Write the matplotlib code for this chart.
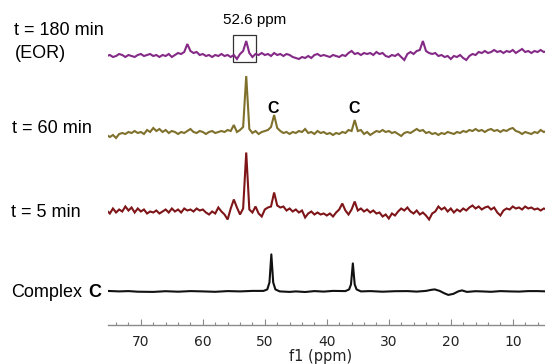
import numpy as np
import matplotlib
matplotlib.use("Agg")
import matplotlib.pyplot as plt
from matplotlib.patches import Rectangle
from matplotlib.ticker import MultipleLocator

# ---------------- data ----------------
# sampling grid of the noisy spectra, ppm (75.5 -> 4.5, 0.5 ppm step)
ppm_start, ppm_step, n_pts = 75.5, 0.5, 143

t180_vals = [0, 1, -1, 0, 2, 1, -1, 1, 0, -1,
             1, 2, 0, 1, 2, 0, 1, -1, 1, 0,
             2, -1, 1, 3, 2, 4, 12, 5, 3, 4,
             1, 2, 0, 1, -1, 1, 0, 2, 0, 1,
             -1, 1, -3, 2, 5, 15, 3, -1, 2, 1,
             3, 1, 2, 0, 3, 1, 2, 0, 2, 1,
             -1, -2, -3, -1, -2, 0, -2, 1, 2, 0,
             1, 0, -1, 1, 0, -1, 1, 0, 3, 5,
             2, 3, 1, 3, 2, 3, 1, 4, 2, 3,
             0, -1, 1, 0, 2, -1, -4, 2, 4, 2,
             5, 6, 15, 5, 3, 2, 3, 0, 1, -1,
             0, -3, 0, -1, 1, -2, -4, 0, 2, 1,
             4, 3, 5, 3, 4, 6, 4, 5, 3, 5,
             4, 6, 3, 5, 7, 4, 5, 3, 5, 4,
             6, 4, 5]

t60_vals = [-2, -4, -2, -5, -1, 0, -1, 1, 0, 2,
            0, 1, -1, 3, 1, 5, 2, 4, 1, 3,
            0, 2, 1, -1, 1, 0, 2, 4, 1, 0,
            2, 1, -1, 1, 2, 0, 1, 2, 1, 3,
            2, 8, 1, 3, 6, 57, 4, 0, 2, -1,
            1, 2, 3, 6, 18, 5, 2, 0, 1, -1,
            1, 0, 2, 1, 4, 0, 1, -1, 2, 0,
            1, -1, 0, -2, 0, -1, 1, 0, 3, 2,
            13, 2, 3, -1, 1, -2, 0, 2, 1, 3,
            1, 2, 0, 1, -1, -3, 0, 1, 0, 2,
            4, 2, 3, 0, 1, -1, 0, -2, 0, -1,
            1, 0, -1, 1, 0, 2, 1, 3, 2, 4,
            2, 3, 1, 3, 4, 2, 3, 1, 3, 2,
            4, 5, 2, 1, -1, 1, 0, -1, 1, 0,
            3, 1, 2]

t5_vals = [1, -2, 3, -1, 2, 0, 5, 1, 4, -1,
           3, 0, 2, -2, 0, -1, 1, -2, 0, 2,
           -1, 3, 0, 2, -1, 3, 1, 2, 0, 3,
           1, 2, -1, -3, 0, -2, 4, 0, -3, -8,
           3, 12, 4, -3, 3, 59, 2, -1, 5, -2,
           -5, 2, 4, 5, 19, 6, 4, 5, 1, 3,
           0, 2, -1, 1, -6, -2, 0, -3, -1, -3,
           -2, -4, -2, -5, -1, 2, 8, 1, -3, 2,
           10, 1, 3, 0, 2, -1, 1, -2, -1, -5,
           -3, -7, -2, -4, 0, 3, 1, 4, 0, -2,
           1, -3, -1, -4, -8, -2, 0, 5, 2, 4,
           0, 3, -1, 2, 0, 3, 1, 4, 6, 3,
           5, 2, 4, 5, 2, 4, -1, -4, 1, 3,
           2, 5, 3, 4, 2, 5, 3, 4, 2, 3,
           1, 3, 2]

# Complex C reference spectrum (smooth), sampled points
complex_ppm = [75.5, 73.5, 72, 70.5, 68, 66, 64, 62, 60, 58, 56, 54, 52,
               50.2, 49.6, 49.25, 48.95, 48.65, 48.3, 47.6, 46, 45, 43.5,
               42, 40.5, 39, 37, 36.4, 36.1, 35.8, 35.5, 35.2, 34.5, 33,
               31, 29, 27, 25.5, 24, 23.2, 22.6, 21.8, 21.0, 20.4, 19.6,
               18.8, 18.2, 17.4, 16, 15, 13.5, 12, 10.5, 9, 7.5, 6, 4.5]
complex_vals = [0.5, 0, 0.3, -0.3, -0.5, 0.2, -0.3, 0.3, 0, -0.4, 0.3, 0, 0.5,
                0.5, 2, 9, 37, 9, 2, 0, -0.5, 0, -0.6,
                0.3, -0.2, 0.5, 0.3, 2, 7, 28, 7, 2, 0, 0.3,
                -0.3, 0.2, 0.3, -0.2, 0.5, 1.5, 2, 0.5, -2, -3.5, -2.5,
                0, 1, -0.5, 0.2, 0, -0.4, 0.3, 0, -0.2, 0.3, 0.3, 0]

trace_labels = ["t = 180 min\n(EOR)", "t = 60 min", "t = 5 min"]
xtick_vals = [70, 60, 50, 40, 30, 20, 10]
box_label = "52.6 ppm"
peak_mark = "C"

# ---------------- styling / layout ----------------
W, H = 545, 364
fig = plt.figure(figsize=(W / 100, H / 100), dpi=100)
ax_bottom_px, ax_left_px = 325, 108
ax = fig.add_axes([ax_left_px / W, (H - ax_bottom_px) / H,
                   (W - ax_left_px) / W, ax_bottom_px / H])
ax.set_xlim(75.3, 4.8)
ax.set_ylim(0, ax_bottom_px)

grid = ppm_start - ppm_step * np.arange(n_pts)

offsets = {"t180": 269, "t60": 192, "t5": 113.5, "cplx": 33.6}
ax.plot(grid, np.array(t180_vals) + offsets["t180"], color="#842a86", lw=1.5,
        solid_joinstyle="miter")
ax.plot(grid, np.array(t60_vals) + offsets["t60"], color="#7f702c", lw=1.5,
        solid_joinstyle="miter")
ax.plot(grid, np.array(t5_vals) + offsets["t5"], color="#7e1518", lw=1.5,
        solid_joinstyle="miter")
ax.plot(complex_ppm, np.array(complex_vals) + offsets["cplx"], color="#111111",
        lw=1.5)

# box around 52.6 ppm peak in the EOR trace
ax.add_patch(Rectangle((55.1, 263), -3.6, 27, fill=False, edgecolor="#333333", lw=0.9))

for s in ["top", "left", "right"]:
    ax.spines[s].set_visible(False)
ax.spines["bottom"].set_color("#8a8a8a")
ax.spines["bottom"].set_linewidth(1.0)
ax.set_yticks([])
ax.set_xticks(xtick_vals)
ax.xaxis.set_minor_locator(MultipleLocator(2))
ax.tick_params(axis="x", which="major", direction="in", length=4, width=0.8,
               color="#8a8a8a", labelsize=10, labelcolor="#222222", pad=7)
ax.tick_params(axis="x", which="minor", direction="in", length=2.5, width=0.8,
               color="#8a8a8a")
for lab in ax.get_xticklabels():
    lab.set_fontfamily("DejaVu Sans")
ax.patch.set_alpha(0)


def ftext(x, y, s, **kw):
    fig.text(x / W, 1 - y / H, s, **kw)


lab_kw = dict(fontsize=13, family="Liberation Sans", color="black", va="baseline")
ftext(14, 34.8, "t = 180 min", ha="left", **lab_kw)
ftext(15, 58.4, "(EOR)", ha="left", **lab_kw)
ftext(12, 132.8, trace_labels[1], ha="left", **lab_kw)
ftext(11, 216.7, trace_labels[2], ha="left", **lab_kw)
ftext(11.5, 296.7, "Complex", ha="left", **lab_kw)
ftext(101, 296.7, peak_mark, ha="right", fontweight="bold", **lab_kw)

ftext(255, 24.3, box_label, ha="center", fontsize=11, family="Liberation Sans",
      va="baseline")
ftext(273.5, 113, peak_mark, ha="center", fontsize=11.5, family="Liberation Sans",
      fontweight="bold", va="baseline")
ftext(354.5, 113, peak_mark, ha="center", fontsize=11.5, family="Liberation Sans",
      fontweight="bold", va="baseline")
ftext(321, 361, "f1 (ppm)", ha="center", fontsize=10.5, family="DejaVu Sans",
      color="#222222", va="baseline")

fig.savefig("out.png", dpi=100)
